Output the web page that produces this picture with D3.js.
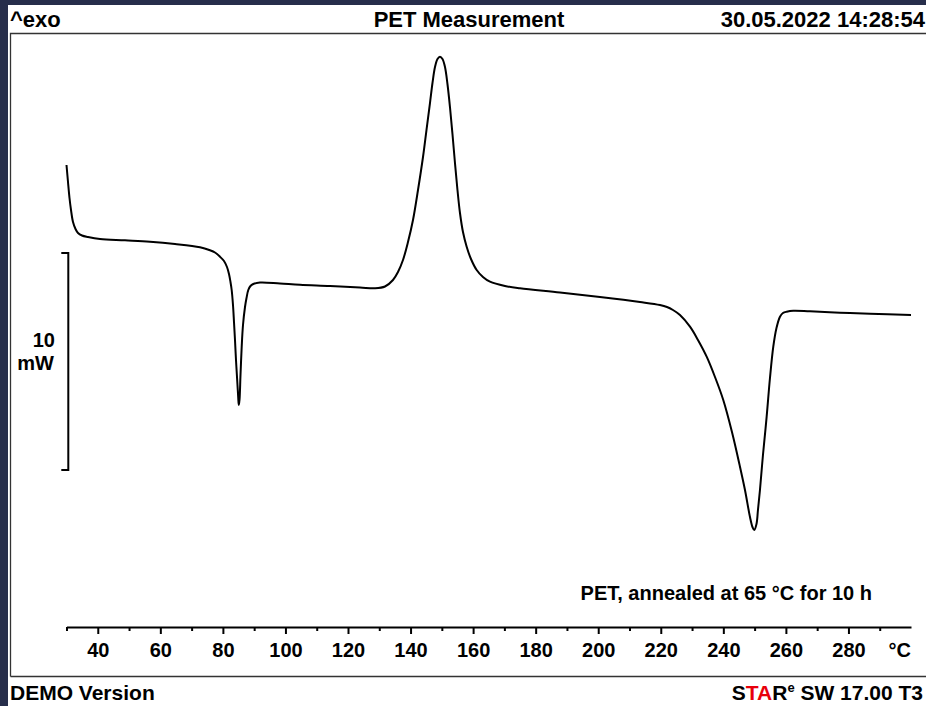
<!DOCTYPE html>
<html><head><meta charset="utf-8">
<script src="https://cdn.jsdelivr.net/npm/d3@7"></script>
<style>
html,body{margin:0;padding:0;background:#272e4b;overflow:hidden;}
svg{display:block;}
text{font-family:"Liberation Sans",Arial,sans-serif;font-weight:bold;fill:#000;}
</style></head><body>
<svg id="c" width="926" height="706"></svg>
<script>
// Temperature (°C) and heat flow (mW, exo up)
const temperature = [30.00,30.48,30.96,31.44,32.08,32.88,33.68,34.96,36.87,40.71,48.70,56.69,64.69,72.68,75.88,77.47,79.07,80.35,81.31,81.95,82.43,82.81,83.23,83.55,83.87,84.19,84.57,84.89,85.08,85.31,85.63,86.01,86.43,87.07,87.55,88.12,88.82,89.72,91.86,98.26,104.65,114.24,123.83,128.63,131.83,134.38,135.98,137.58,139.18,140.78,142.38,143.98,145.09,146.21,147.01,147.81,148.61,149.41,150.21,151.01,151.80,152.60,153.40,154.20,155.00,155.80,156.76,157.94,159.32,161.14,163.15,165.39,170.19,174.98,187.77,200.56,213.35,219.74,221.98,223.90,226.14,229.34,231.89,234.67,237.33,239.98,242.76,245.32,246.92,248.52,249.32,249.89,250.60,251.07,251.71,252.67,253.85,254.91,255.97,256.99,258.11,259.07,260.25,262.36,267.70,277.30,286.89,300.00];
const heatFlow = [4.055,3.272,2.535,1.982,1.429,1.106,0.922,0.806,0.737,0.645,0.585,0.521,0.415,0.263,0.124,0.023,-0.171,-0.369,-0.645,-0.968,-1.336,-1.705,-2.396,-3.180,-4.009,-4.931,-5.853,-6.636,-7.005,-6.774,-5.622,-4.332,-3.318,-2.488,-2.074,-1.705,-1.521,-1.429,-1.359,-1.406,-1.465,-1.521,-1.590,-1.627,-1.544,-1.244,-0.876,-0.323,0.507,1.521,2.903,4.424,5.668,6.912,7.834,8.571,8.940,9.046,8.940,8.571,7.788,6.728,5.484,4.147,2.903,1.843,0.968,0.290,-0.276,-0.783,-1.106,-1.323,-1.521,-1.627,-1.820,-2.028,-2.258,-2.396,-2.488,-2.627,-2.857,-3.396,-4.009,-4.779,-5.714,-6.774,-8.249,-9.848,-10.922,-12.166,-12.627,-12.765,-12.488,-11.843,-10.922,-9.309,-7.544,-5.760,-4.318,-3.456,-2.935,-2.765,-2.705,-2.659,-2.687,-2.751,-2.802,-2.857];
const majorTicks = [40,60,80,100,120,140,160,180,200,220,240,260,280];
const minorTicks = [30,50,70,90,110,130,150,170,190,210,230,250,270,290];
const scaleBar = [0,-10];           // 10 mW scale bar
const tempDomain = [30,300];
const headerLeft = "^exo", headerTitle = "PET Measurement", headerDate = "30.05.2022 14:28:54";
const annotation = "PET, annealed at 65 °C for 10 h";
const unitLabel = "°C";

const svg = d3.select("#c");
svg.append("rect").attr("width",926).attr("height",706).attr("fill","#272e4b");
svg.append("rect").attr("x",8).attr("y",5).attr("width",918).attr("height",701).attr("fill","#fff");

// frame
svg.append("path").attr("d","M10.5,676.5V33.5H926M10.5,676.5H926")
  .attr("fill","none").attr("stroke","#333").attr("stroke-width",1.3);

const x = d3.scaleLinear().domain(tempDomain).range([66.5,911]);
const y = d3.scaleLinear().domain([0,-10]).range([253,470]);

// axis
const axY = 627;
const gMaj = svg.append("g").attr("transform",`translate(0,${axY})`)
  .call(d3.axisBottom(x).tickValues(majorTicks).tickSize(7).tickPadding(9).tickSizeOuter(0).tickFormat(d3.format("d")));
const gMin = svg.append("g").attr("transform",`translate(0,${axY})`)
  .call(d3.axisBottom(x).tickValues(minorTicks).tickSize(4).tickSizeOuter(0).tickFormat(""));
gMin.select(".domain").remove();
[gMaj,gMin].forEach(g=>{
  g.attr("font-family",null).attr("font-size",null);
  g.selectAll("line").attr("stroke","#000").attr("stroke-width",2);
  g.select(".domain").attr("stroke","#000").attr("stroke-width",2);
});
gMaj.selectAll("text").attr("fill","#000").style("font-size","20px");

svg.append("text").attr("x",911).attr("y",657).attr("text-anchor","end")
  .style("font-size","20px").text(unitLabel);

// curve
const line = d3.line().x(d=>x(d[0])).y(d=>y(d[1])).curve(d3.curveCatmullRom.alpha(0.5));
svg.append("path").datum(temperature.map((t,i)=>[t,heatFlow[i]]))
  .attr("d",line).attr("fill","none").attr("stroke","#000").attr("stroke-width",2)
  .attr("stroke-linejoin","round");

// scale bar
const sbx = 68.3;
svg.append("path")
  .attr("d",`M${sbx-7},${y(scaleBar[0])}H${sbx}V${y(scaleBar[1])}H${sbx-7}`)
  .attr("fill","none").attr("stroke","#000").attr("stroke-width",2);
svg.append("text").attr("x",55).attr("y",347).attr("text-anchor","end").style("font-size","20px").text("10");
svg.append("text").attr("x",54).attr("y",370).attr("text-anchor","end").style("font-size","20px").text("mW");

// annotation
svg.append("text").attr("x",872).attr("y",600).attr("text-anchor","end").style("font-size","20px").text(annotation);

// header
svg.append("text").attr("x",10).attr("y",27).style("font-size","22px").text(headerLeft);
svg.append("text").attr("x",469).attr("y",27).attr("text-anchor","middle").style("font-size","22px").text(headerTitle);
svg.append("text").attr("x",925).attr("y",27).attr("text-anchor","end").style("font-size","22px").text(headerDate);

// footer
svg.append("text").attr("x",10).attr("y",700).style("font-size","21px").text("DEMO Version");
const st = svg.append("text").attr("x",923).attr("y",700).attr("text-anchor","end").style("font-size","21px");
st.append("tspan").text("S");
st.append("tspan").style("fill","#e8000b").text("TA");
st.append("tspan").text("R");
st.append("tspan").attr("dy",-8).style("font-size","13px").text("e");
st.append("tspan").attr("dy",8).text(" SW 17.00 T3");
</script>
</body></html>
